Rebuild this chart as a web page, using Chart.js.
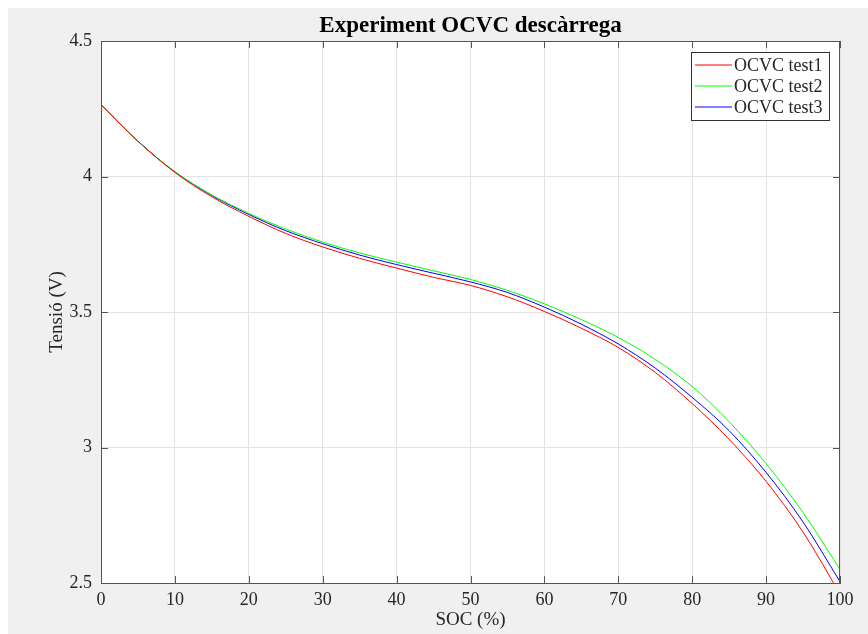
<!DOCTYPE html>
<html lang="ca">
<head>
    <meta charset="UTF-8">
    <title>Experiment OCVC descàrrega</title>
    <script src="https://cdn.jsdelivr.net/npm/chart.js"></script>
    <style>
        body { margin: 8px 0 0 8px; background: #ffffff; }
        canvas { display: block; }
    </style>
</head>
<body>
    <canvas id="grafic" width="860" height="626"></canvas>
<script>
    // dades llegides del gràfic (SOC en %, tensió en V)
    const soc = [0, 5, 10, 15, 20, 25, 30, 35, 40, 45, 50, 55, 60, 65, 70, 75, 80, 85, 90, 95, 100];
    const test1 = [4.265, 4.13, 4.015, 3.925, 3.853, 3.79, 3.74, 3.698, 3.662, 3.628, 3.598, 3.556, 3.502, 3.44, 3.369, 3.277, 3.162, 3.03, 2.875, 2.688, 2.46];
    const test2 = [4.265, 4.13, 4.018, 3.932, 3.864, 3.806, 3.758, 3.718, 3.684, 3.652, 3.62, 3.58, 3.53, 3.472, 3.406, 3.325, 3.225, 3.095, 2.94, 2.76, 2.55];
    const test3 = [4.265, 4.13, 4.017, 3.93, 3.86, 3.80, 3.752, 3.71, 3.675, 3.643, 3.611, 3.572, 3.518, 3.455, 3.382, 3.293, 3.185, 3.062, 2.908, 2.725, 2.505];
    const noms = ['OCVC test1', 'OCVC test2', 'OCVC test3'];
    const colors = ['#ff0000', '#00ff00', '#0000ff'];
    const titol = 'Experiment OCVC descàrrega';

    function punts(valors) {
        return soc.map(function (x, i) { return { x: x, y: valors[i] }; });
    }

    const font = 'Liberation Serif';
    const vora = '#555555';

    // fons gris de la figura, fons blanc dels eixos, caixa i marques cap a dins
    const fons = {
        id: 'fons',
        beforeDraw(chart) {
            const ctx = chart.ctx, a = chart.chartArea;
            ctx.save();
            ctx.fillStyle = '#f0f0f0';
            ctx.fillRect(0, 0, chart.width, chart.height);
            ctx.fillStyle = '#ffffff';
            ctx.fillRect(a.left, a.top, a.right - a.left, a.bottom - a.top);
            ctx.restore();
        },
        afterDraw(chart) {
            const ctx = chart.ctx, a = chart.chartArea;
            const sx = chart.scales.x, sy = chart.scales.y;
            ctx.save();
            ctx.strokeStyle = vora;
            ctx.lineWidth = 1;
            ctx.strokeRect(a.left + 0.5, a.top + 0.5, a.right - a.left - 1, a.bottom - a.top);
            ctx.beginPath();
            sx.ticks.forEach(function (t) {
                const px = Math.round(sx.getPixelForValue(t.value)) + 0.5;
                ctx.moveTo(px, a.bottom); ctx.lineTo(px, a.bottom - 7);
                ctx.moveTo(px, a.top); ctx.lineTo(px, a.top + 7);
            });
            sy.ticks.forEach(function (t) {
                const py = Math.round(sy.getPixelForValue(t.value)) + 0.5;
                ctx.moveTo(a.left, py); ctx.lineTo(a.left + 7, py);
                ctx.moveTo(a.right, py); ctx.lineTo(a.right - 7, py);
            });
            ctx.stroke();
            // títol centrat sobre els eixos
            ctx.fillStyle = '#000000';
            ctx.font = 'bold 23px "' + font + '"';
            ctx.textAlign = 'center';
            ctx.textBaseline = 'middle';
            ctx.fillText(titol, (a.left + a.right) / 2, 18);
            ctx.restore();
        }
    };

    // llegenda dins dels eixos, a dalt a la dreta
    const llegenda = {
        id: 'llegenda',
        afterDraw(chart) {
            const ctx = chart.ctx, a = chart.chartArea;
            const w = 138, h = 68;
            const x0 = a.right - 11 - w, y0 = a.top + 11;
            ctx.save();
            ctx.fillStyle = '#ffffff';
            ctx.fillRect(x0, y0, w, h);
            ctx.strokeStyle = '#333333';
            ctx.lineWidth = 1;
            ctx.strokeRect(x0 + 0.5, y0 + 0.5, w, h);
            ctx.font = '18px "' + font + '"';
            ctx.textBaseline = 'middle';
            chart.data.datasets.forEach(function (ds, i) {
                const y = y0 + 13 + i * 21;
                ctx.strokeStyle = colors[i];
                ctx.lineWidth = 1.2;
                ctx.beginPath();
                ctx.moveTo(x0 + 4, y);
                ctx.lineTo(x0 + 41, y);
                ctx.stroke();
                ctx.fillStyle = '#262626';
                ctx.fillText(ds.label, x0 + 43, y + 1);
            });
            ctx.restore();
        }
    };

    new Chart(document.getElementById('grafic'), {
        type: 'line',
        data: {
            datasets: [0, 1, 2].map(function (i) {
                return {
                    label: noms[i],
                    data: punts([test1, test2, test3][i]),
                    borderColor: colors[i],
                    borderWidth: 1,
                    pointRadius: 0,
                    cubicInterpolationMode: 'monotone'
                };
            })
        },
        options: {
            responsive: false,
            animation: false,
            layout: { padding: { left: 0, right: 28, top: 33, bottom: 0 } },
            plugins: {
                legend: { display: false },
                tooltip: { enabled: false },
                title: { display: false }
            },
            scales: {
                x: {
                    type: 'linear',
                    min: 0,
                    max: 100,
                    afterFit: function (s) { s.height = 51; },
                    ticks: { stepSize: 10, color: '#262626', padding: 6, font: { family: font, size: 18 } },
                    grid: { color: '#e3e3e3', drawTicks: false },
                    border: { color: vora },
                    title: {
                        display: true,
                        text: 'SOC (%)',
                        color: '#262626',
                        font: { family: font, size: 19, lineHeight: 1.2 },
                        padding: { top: 0, bottom: 3 }
                    }
                },
                y: {
                    min: 2.5,
                    max: 4.5,
                    afterFit: function (s) { s.width = 93; },
                    ticks: {
                        stepSize: 0.5, color: '#262626', padding: 9, font: { family: font, size: 18 },
                        callback: function (v) { return String(v); }
                    },
                    grid: { color: '#e3e3e3', drawTicks: false },
                    border: { color: vora },
                    title: {
                        display: true,
                        text: 'Tensió (V)',
                        color: '#262626',
                        font: { family: font, size: 19, lineHeight: 1.2 },
                        padding: { top: 38, bottom: 0 }
                    }
                }
            }
        },
        plugins: [fons, llegenda]
    });
</script>
</body>
</html>
